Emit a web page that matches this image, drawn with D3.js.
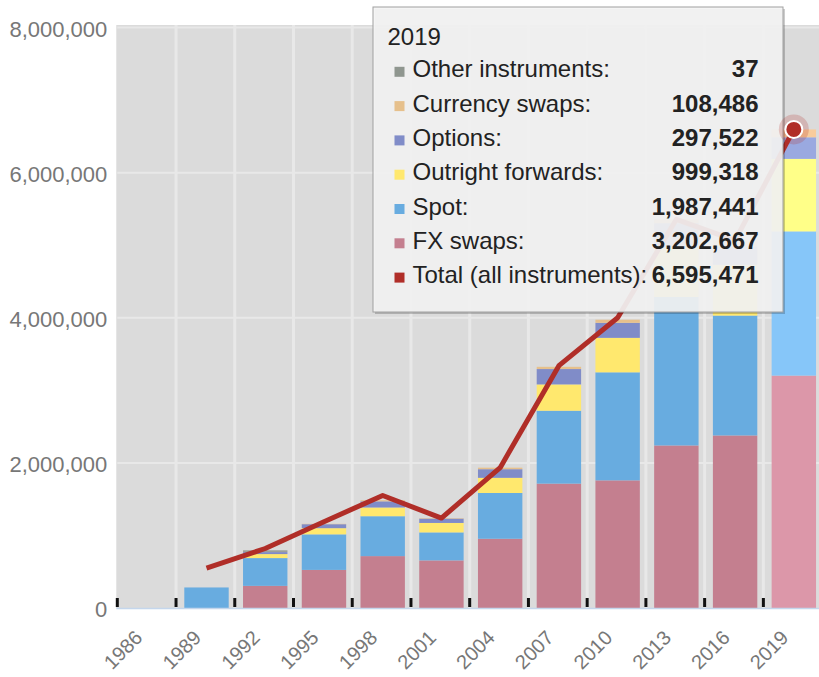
<!DOCTYPE html>
<html><head><meta charset="utf-8">
<script src="https://cdn.jsdelivr.net/npm/d3@7"></script>
<style>
body{margin:0;background:#fff;}
svg{display:block;font-family:"Liberation Sans",Arial,sans-serif;}
</style>
</head><body>
<svg id="chart" width="819" height="677"></svg>
<script>
// ---- data (millions of USD, daily average turnover) ----
const years = ["1986","1989","1992","1995","1998","2001","2004","2007","2010","2013","2016","2019"];
const fxSwaps  = [0, 0, 305000, 525000, 715000, 656000, 954000, 1714000, 1759000, 2240000, 2378000, 3202667];
const spot     = [0, 283000, 383000, 490000, 550000, 386000, 631000, 1005000, 1489000, 2047000, 1652000, 1987441];
const forwards = [0, 0, 55000, 85000, 120000, 130000, 209000, 362000, 475000, 679000, 700000, 999318];
const options  = [0, 0, 28000, 55000, 85000, 60000, 119000, 212000, 207000, 337000, 254000, 297522];
const currSwaps= [0, 0, 3000, 5000, 15000, 7000, 21000, 31000, 43000, 54000, 82000, 108486];
const other    = [0, 0, 20000, 0, 0, 0, 0, 0, 0, 0, 0, 37];
const total    = [null, 550000, 820000, 1190000, 1550000, 1239000, 1934000, 3340000, 4000000, 5357000, 5066000, 6595471];
const yTicks   = [0, 2000000, 4000000, 6000000, 8000000];

const keys   = ["fx","spot","fwd","opt","cs","oth"];
const labels = {fx:"FX swaps", spot:"Spot", fwd:"Outright forwards", opt:"Options", cs:"Currency swaps", oth:"Other instruments"};
const colors = {fx:"#c47f8f", spot:"#68ace0", fwd:"#ffe86e", opt:"#808cc8", cs:"#e6c08c", oth:"#8f968f"};
const hiCols = {fx:"#dc97a9", spot:"#86c6f9", fwd:"#ffff88", opt:"#9aa9e0", cs:"#f8cc9c", oth:"#a8b0a8"};
const totalColor = "#b02e28";
const hoverYear = "2019";

const table = years.map((y,i)=>({year:y, fx:fxSwaps[i], spot:spot[i], fwd:forwards[i], opt:options[i], cs:currSwaps[i], oth:other[i], total:total[i]}));

// ---- layout ----
const svg = d3.select("#chart");
const plotL = 117.3, plotR = 822.1, plotT = 25, plotB = 608;
const xCol = d3.scaleBand().domain(years).range([plotL, plotR]).padding(0);
const xBar = d3.scaleBand().domain(years).range([plotL+1.1, plotR+1.1]).paddingInner(0.244).paddingOuter(0.122);
const y = d3.scaleLinear().domain([0, 8000000]).range([608, 27.5]);

// background
svg.append("rect").attr("x", plotL-1).attr("y", plotT).attr("width", plotR-plotL+1).attr("height", plotB-plotT).attr("fill","#dbdbdb");

// horizontal gridlines
svg.append("g").selectAll("line").data(yTicks.filter(d=>d>0)).join("line")
  .attr("x1", plotL).attr("x2", plotR).attr("y1", d=>y(d)).attr("y2", d=>y(d))
  .attr("stroke","#e8e8e8").attr("stroke-width",2);
// vertical gridlines at column boundaries
svg.append("g").selectAll("line").data(years.slice(1)).join("line")
  .attr("x1", d=>xCol(d)).attr("x2", d=>xCol(d)).attr("y1", plotT).attr("y2", plotB)
  .attr("stroke","#e8e8e8").attr("stroke-width",3);

// stacked bars
const stacked = d3.stack().keys(keys)(table);
const barG = svg.append("g");
stacked.forEach(layer=>{
  const k = layer.key;
  barG.append("g").selectAll("rect").data(layer.filter(d=>d[1]-d[0]>0)).join("rect")
    .attr("x", d=>xBar(d.data.year)).attr("width", xBar.bandwidth())
    .attr("y", d=>y(d[1])).attr("height", d=>y(d[0])-y(d[1]))
    .attr("fill", d=> d.data.year===hoverYear ? hiCols[k] : colors[k]);
});

// black tick marks at column boundaries
svg.append("g").selectAll("rect").data(years).join("rect")
  .attr("x", d=>xCol(d)-1.5).attr("y", 598).attr("width",3).attr("height",9).attr("fill","#111");

// baseline
svg.append("line").attr("x1", plotL-1).attr("x2", plotR).attr("y1", 608.5).attr("y2", 608.5)
  .attr("stroke","#c4d6ec").attr("stroke-width",1.5);

// y axis
const yAxis = svg.append("g").attr("transform", `translate(${plotL},0)`)
  .call(d3.axisLeft(y).tickValues(yTicks).tickFormat(d3.format(",")).tickSize(0).tickPadding(10));
yAxis.select(".domain").remove();
yAxis.selectAll("text").attr("font-size", 22).attr("fill","#777").attr("font-family","Liberation Sans, Arial, sans-serif").attr("dy","0.4em");

// x axis
const xAxis = svg.append("g").attr("transform", `translate(0,${plotB})`)
  .call(d3.axisBottom(xCol).tickSize(0).tickPadding(0));
xAxis.select(".domain").remove();
xAxis.selectAll("text").attr("font-size", 20).attr("fill","#777").attr("font-family","Liberation Sans, Arial, sans-serif")
  .attr("text-anchor","end").attr("dy",0).attr("y",0)
  .attr("transform","translate(-3,31) rotate(-45)");

// total line
const lineGen = d3.line().defined(d=>d.total!=null)
  .x(d=>xBar(d.year)+xBar.bandwidth()/2).y(d=>y(d.total));
svg.append("path").datum(table).attr("d", lineGen).attr("fill","none")
  .attr("stroke", totalColor).attr("stroke-width",5).attr("stroke-linejoin","round");

// tooltip
const tip = svg.append("g");
tip.append("rect").attr("x",375).attr("y",9).attr("width",410).attr("height",305).attr("fill","#000").attr("opacity",0.2);
tip.append("rect").attr("x",373).attr("y",7).attr("width",410).attr("height",305)
  .attr("fill","#f4f4f4").attr("fill-opacity",0.92).attr("stroke","#a0a0a0").attr("stroke-width",1);
tip.append("text").attr("x",387.5).attr("y",45).attr("font-size",24).attr("fill","#222").text(hoverYear);
const hi = years.indexOf(hoverYear);
const rows = [
  {name:labels.oth+":", color:colors.oth, v:other[hi]},
  {name:labels.cs+":", color:colors.cs, v:currSwaps[hi]},
  {name:labels.opt+":", color:colors.opt, v:options[hi]},
  {name:labels.fwd+":", color:colors.fwd, v:forwards[hi]},
  {name:labels.spot+":", color:colors.spot, v:spot[hi]},
  {name:labels.fx+":", color:colors.fx, v:fxSwaps[hi]},
  {name:"Total (all instruments):", color:totalColor, v:total[hi]}
];
const fmt = d3.format(",");
rows.forEach((r,i)=>{
  const by = 77.3 + i*34.3;
  tip.append("rect").attr("x",394.5).attr("y",by-10.5).attr("width",10).attr("height",10).attr("fill",r.color);
  tip.append("text").attr("x",412.5).attr("y",by).attr("font-size",24).attr("fill","#222").text(r.name);
  tip.append("text").attr("x",758.5).attr("y",by).attr("font-size",24).attr("font-weight","bold").attr("fill","#222")
    .attr("text-anchor","end").text(fmt(r.v));
});

// hover point
const hx = xBar(hoverYear)+xBar.bandwidth()/2, hy = y(total[hi]);
svg.append("circle").attr("cx",hx).attr("cy",hy).attr("r",15).attr("fill",totalColor).attr("opacity",0.22);
svg.append("circle").attr("cx",hx).attr("cy",hy).attr("r",8.5).attr("fill",totalColor).attr("stroke","#fff").attr("stroke-width",2);
</script>
</body></html>
